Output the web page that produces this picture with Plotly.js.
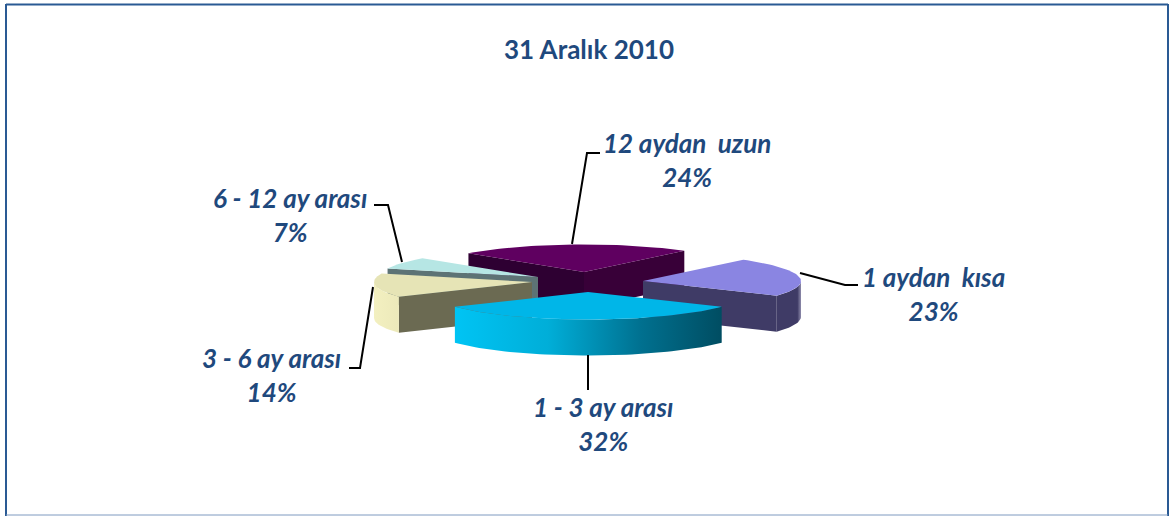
<!DOCTYPE html>
<html><head><meta charset="utf-8">
<script src="https://cdn.plot.ly/plotly-3.0.1.min.js"></script>
<style>html,body{margin:0;padding:0;background:#fff}#c{width:1170px;height:516px}</style>
</head><body><div id="c"></div>
<script>
// Data (clockwise from the back of the pie)
var categories = ['12 aydan\u00a0 uzun', '1 aydan\u00a0 kısa', '1 - 3 ay arası', '3 - 6 ay arası', '6 - 12 ay arası'];
var values = [24, 23, 32, 14, 7];
var percentLabels = ['24%', '23%', '32%', '14%', '7%'];

// Styling
var topColors = ['#5f0060', '#8a85e2', '#00b6e8', '#e6e4b6', '#b6e6e4'];
var faceColors = ['#2e0032', '#3f3b66', '#00a0c8', '#6b6a52', '#5d7375'];
var rimScales = [
  [[0, '#2e0032'], [1, '#2e0032']],
  [[0, '#3f3b66'], [0.85, '#3f3b66'], [1, '#8f8cac']],
  [[0, '#00c4f4'], [0.35, '#00aed8'], [0.7, '#00708f'], [1, '#004d62']],
  [[0, '#f3f0c0'], [1, '#ece9ba']],
  [[0, '#5d7375'], [1, '#5d7375']]
];
// Explosion centres of the slices, in layout pixels
var centerX = [584, 643, 588, 532, 538];
var centerY = [272, 281, 292, 282, 277];
var labelX = [687, 933, 603, 271, 290];
var labelY = [160, 294, 424, 375, 215];
var leaderX = [[572, 587, 600], [800, 845, 858], [588, 588], [373, 360, 349], [402, 388, 374]];
var leaderY = [[244, 153, 153], [273, 285, 285], [355, 390], [287, 368, 368], [262, 205, 205]];
var rx = 158, ry = 27.5, depth = 36, startAngle = -47;
var paintOrder = [0, 4, 1, 3, 2];

var rad = Math.PI / 180;
function px(i, a) { return centerX[i] + rx * Math.sin(a * rad); }
function py(i, a) { return centerY[i] - ry * Math.cos(a * rad); }
var total = values.reduce(function (s, v) { return s + v; }, 0);
var spans = [], acc = startAngle;
values.forEach(function (v) { var e = acc + v / total * 360; spans.push([acc, e]); acc = e; });

function arc(i, a0, a1) {
  var n = Math.max(2, Math.ceil(Math.abs(a1 - a0) / 2)), xs = [], ys = [];
  for (var k = 0; k <= n; k++) {
    var a = a0 + (a1 - a0) * k / n;
    xs.push(px(i, a)); ys.push(py(i, a));
  }
  return { x: xs, y: ys };
}
function poly(xs, ys, color, name, gradient) {
  var t = { type: 'scatter', mode: 'lines', x: xs.concat([xs[0]]), y: ys.concat([ys[0]]), fill: 'toself',
    line: { width: 0, color: color }, fillcolor: color, hoverinfo: 'skip', showlegend: false, name: name };
  if (gradient) { t.fillgradient = { type: 'horizontal', colorscale: gradient }; delete t.fillcolor; }
  return t;
}
function face(i, a, color) {
  var x = px(i, a), y = py(i, a), cx = centerX[i], cy = centerY[i];
  return poly([cx, x, x, cx], [cy, y, y + depth, cy + depth], color, categories[i]);
}

var traces = [];
paintOrder.forEach(function (i) {
  var a0 = spans[i][0], a1 = spans[i][1];
  var end0 = ((a0 % 360) + 360) % 360, end1 = ((a1 % 360) + 360) % 360;
  // radial faces that look toward the viewer
  if (i === 0) {
    traces.push(face(i, a0, faceColors[i]));
    traces.push(face(i, a1, '#380038'));
  } else if (end0 > 180) {
    traces.push(face(i, a0, faceColors[i]));
  } else if (end1 < 180 && end1 > 0 && i !== 2) {
    traces.push(face(i, a1, faceColors[i]));
  }
  // visible outer rim: the front half of the ellipse
  var r0 = Math.max(a0, 90), r1 = Math.min(a1, 270);
  if (r1 > r0) {
    var top = arc(i, r0, r1);
    var botY = top.y.map(function (v) { return v + depth; }).reverse();
    var botX = top.x.slice().reverse();
    traces.push(poly(top.x.concat(botX), top.y.concat(botY), faceColors[i], categories[i], rimScales[i]));
  }
  // top surface
  var t = arc(i, a0, a1);
  traces.push(poly([centerX[i]].concat(t.x), [centerY[i]].concat(t.y), topColors[i], categories[i]));
});
// leader lines
categories.forEach(function (c, i) {
  traces.push({ type: 'scatter', mode: 'lines', x: leaderX[i], y: leaderY[i],
    line: { color: '#000', width: 2 }, hoverinfo: 'skip', showlegend: false });
});

var annotations = categories.map(function (c, i) {
  return { xref: 'x', yref: 'y', x: labelX[i], y: labelY[i], showarrow: false, align: 'center',
    text: '<b><i>' + c + '<br>' + percentLabels[i] + '</i></b>',
    font: { family: 'Lato, sans-serif', size: 26, color: '#1f497d' } };
});
annotations.push({ xref: 'x', yref: 'y', x: 589, y: 49, showarrow: false,
  text: '<b>31 Aralık 2010</b>', font: { family: 'Lato, sans-serif', size: 26, color: '#1f497d' } });

function border(x0, y0, x1, y1, c, w) {
  return { type: 'line', xref: 'x', yref: 'y', x0: x0, y0: y0, x1: x1, y1: y1, line: { color: c, width: w } };
}
var layout = {
  width: 1170, height: 516, margin: { l: 0, r: 0, t: 0, b: 0 },
  paper_bgcolor: '#fff', plot_bgcolor: '#fff', showlegend: false,
  xaxis: { range: [0, 1170], visible: false, fixedrange: true },
  yaxis: { range: [516, 0], visible: false, fixedrange: true },
  annotations: annotations,
  shapes: [
    border(6, 4.5, 1168, 4.5, '#2a5a94', 2),
    border(6, 4, 6, 516, '#2a5a94', 2),
    border(1168, 4, 1168, 516, '#2a5a94', 2),
    border(6, 515, 1168, 515, '#7f9ac0', 1)
  ]
};
Plotly.newPlot('c', traces, layout, { displayModeBar: false, staticPlot: true });
</script></body></html>
